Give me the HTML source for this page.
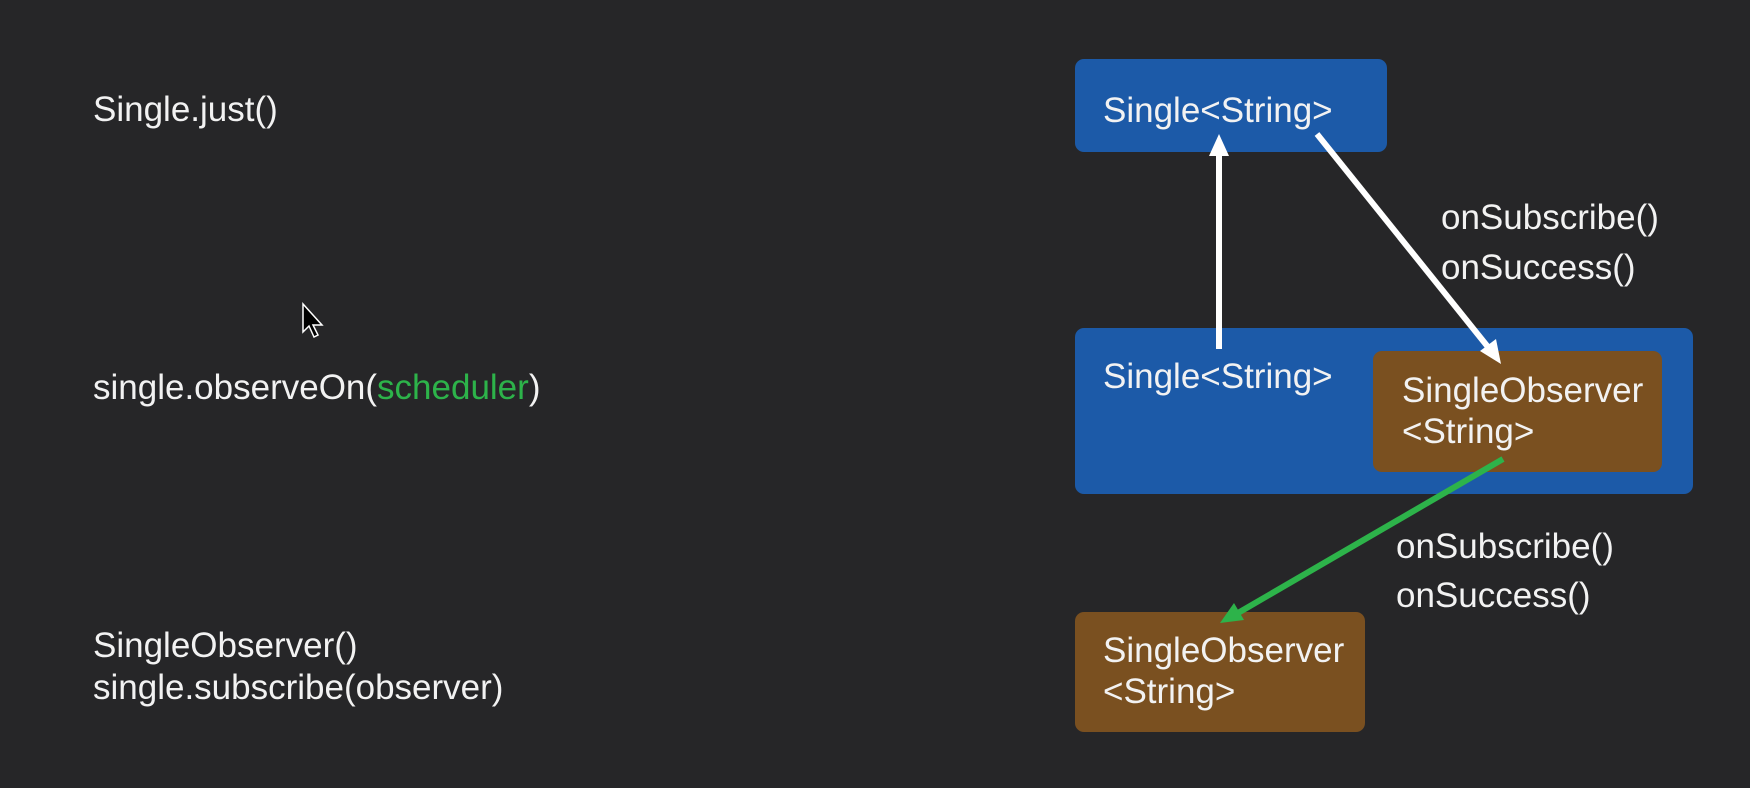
<!DOCTYPE html>
<html><head><meta charset="utf-8"><style>
html,body{margin:0;padding:0;background:#262628;}
body{width:1750px;height:788px;position:relative;overflow:hidden;font-family:"Liberation Sans",sans-serif;color:#f2f2f2;}
.t{position:absolute;white-space:nowrap;line-height:1;}
.l{font-size:35px;}
.r{font-size:35px;}
.box{position:absolute;border-radius:9px;}
.b{background:#1c5aa8;}
.o{background:#7a5020;}
</style></head><body>
<div class="t l" style="left:93px;top:92px">Single.just()</div>
<div class="t l" style="left:93px;top:370px">single.observeOn(<span style="color:#2db34a">scheduler</span>)</div>
<div class="t l" style="left:93px;top:628px">SingleObserver()</div>
<div class="t l" style="left:93px;top:670px">single.subscribe(observer)</div>

<div class="box b" style="left:1075px;top:59px;width:312px;height:93px"></div>
<div class="box b" style="left:1075px;top:328px;width:618px;height:166px"></div>
<div class="box o" style="left:1373px;top:351px;width:289px;height:121px"></div>
<div class="box o" style="left:1075px;top:612px;width:290px;height:120px"></div>

<div class="t r" style="left:1103px;top:93px">Single&lt;String&gt;</div>
<div class="t r" style="left:1103px;top:359px">Single&lt;String&gt;</div>
<div class="t r" style="left:1402px;top:373px">SingleObserver</div>
<div class="t r" style="left:1402px;top:414px">&lt;String&gt;</div>
<div class="t r" style="left:1103px;top:633px">SingleObserver</div>
<div class="t r" style="left:1103px;top:674px">&lt;String&gt;</div>

<div class="t r" style="left:1441px;top:200px">onSubscribe()</div>
<div class="t r" style="left:1441px;top:250px">onSuccess()</div>
<div class="t r" style="left:1396px;top:529px">onSubscribe()</div>
<div class="t r" style="left:1396px;top:578px">onSuccess()</div>

<svg width="1750" height="788" style="position:absolute;left:0;top:0">
<line x1="1219" y1="349" x2="1219" y2="152" stroke="#fff" stroke-width="6"/>
<polygon points="1219,134 1209,156 1229,156" fill="#fff"/>
<line x1="1317" y1="134" x2="1488" y2="347" stroke="#fff" stroke-width="6"/>
<polygon points="1501,364 1480,351 1496,339" fill="#fff"/>
<line x1="1503" y1="459" x2="1238" y2="613" stroke="#2db34a" stroke-width="6"/>
<polygon points="1220,623 1234,603 1244,620" fill="#2db34a"/>
<polygon points="303,304 303,332 309,326 314,337 318,335 313,325 322,325" fill="#000" stroke="#fff" stroke-width="1.5"/>
</svg>
</body></html>
